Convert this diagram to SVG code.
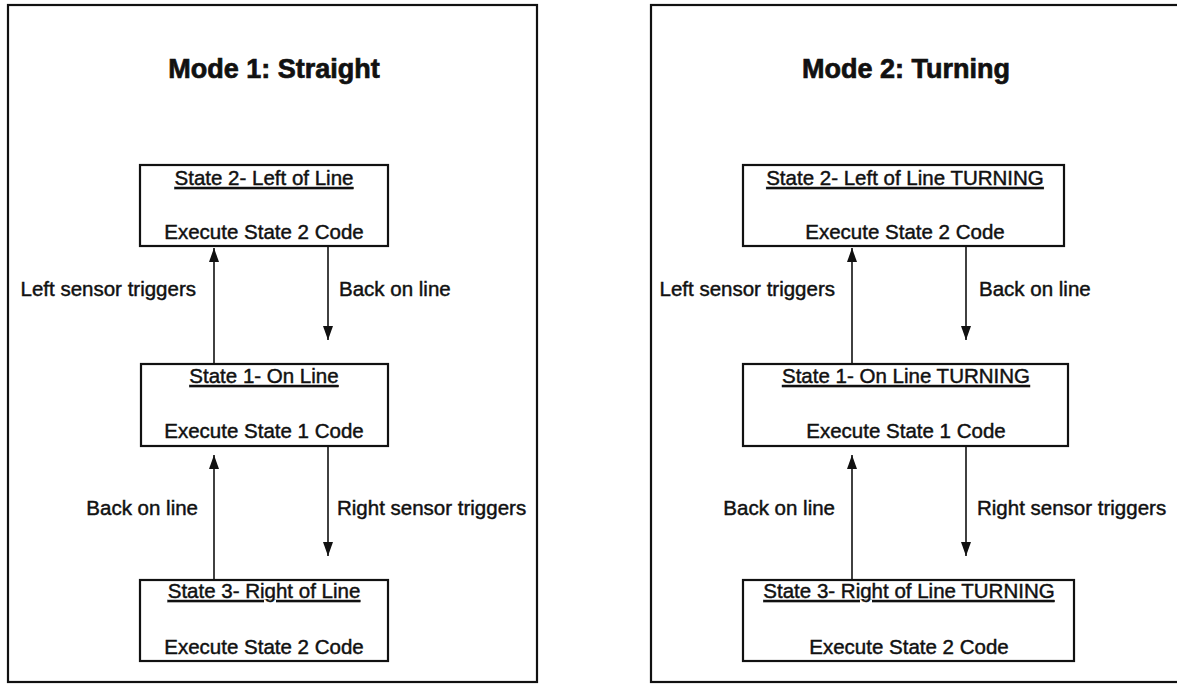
<svg xmlns="http://www.w3.org/2000/svg" width="1177" height="685" viewBox="0 0 1177 685">
<style>
text{font-family:"Liberation Sans",Arial,Helvetica,sans-serif;fill:#111;stroke:#111;stroke-width:0.45}
.title{font-size:27px;font-weight:bold;text-anchor:middle;stroke-width:0.7}
.lbl{font-size:20.5px}
.st{font-size:20.5px;text-anchor:middle;text-decoration:underline}
.ex{font-size:20.5px;text-anchor:middle}
.frame{fill:none;stroke:#111;stroke-width:2.2}
.box{fill:#fff;stroke:#111;stroke-width:2.2}
.conn line{stroke:#111;stroke-width:1.6}
</style>
<defs>
<marker id="ah2" viewBox="0 0 14 10" refX="14" refY="5" markerWidth="14" markerHeight="10" markerUnits="userSpaceOnUse" orient="auto">
<path d="M0,0 L14,5 L0,10 Z" fill="#111"/>
</marker>
</defs>
<rect width="1177" height="685" fill="#fff"/>

<g id="panel1">
<rect class="frame" x="8" y="5" width="529" height="677"/>
<text class="title" x="274" y="78">Mode 1: Straight</text>
</g>
<g id="panel2">
<rect class="frame" x="651" y="5" width="540" height="677"/>
<text class="title" x="906" y="78">Mode 2: Turning</text>
</g>

<g id="connectors" class="conn">
<line x1="214" y1="364" x2="214" y2="248" marker-end="url(#ah2)"/>
<line x1="328" y1="246" x2="328" y2="340" marker-end="url(#ah2)"/>
<line x1="214" y1="580" x2="214" y2="455" marker-end="url(#ah2)"/>
<line x1="328" y1="446" x2="328" y2="556" marker-end="url(#ah2)"/>
<line x1="852" y1="364" x2="852" y2="248" marker-end="url(#ah2)"/>
<line x1="966" y1="246" x2="966" y2="340" marker-end="url(#ah2)"/>
<line x1="852" y1="580" x2="852" y2="455" marker-end="url(#ah2)"/>
<line x1="966" y1="446" x2="966" y2="556" marker-end="url(#ah2)"/>
</g>

<g id="labels">
<text class="lbl" x="196" y="296" text-anchor="end">Left sensor triggers</text>
<text class="lbl" x="339" y="296">Back on line</text>
<text class="lbl" x="198" y="515" text-anchor="end">Back on line</text>
<text class="lbl" x="337" y="515">Right sensor triggers</text>
<text class="lbl" x="835" y="296" text-anchor="end">Left sensor triggers</text>
<text class="lbl" x="979" y="296">Back on line</text>
<text class="lbl" x="835" y="515" text-anchor="end">Back on line</text>
<text class="lbl" x="977" y="515">Right sensor triggers</text>
</g>

<g id="m1-state2">
<rect class="box" x="140" y="165" width="248" height="81"/>
<text class="st" x="264" y="185">State 2- Left of Line</text>
<text class="ex" x="264" y="239">Execute State 2 Code</text>
</g>
<g id="m1-state1">
<rect class="box" x="141" y="364" width="247" height="82"/>
<text class="st" x="264" y="383">State 1- On Line</text>
<text class="ex" x="264" y="438">Execute State 1 Code</text>
</g>
<g id="m1-state3">
<rect class="box" x="140" y="580" width="248" height="81"/>
<text class="st" x="264" y="598">State 3- Right of Line</text>
<text class="ex" x="264" y="654">Execute State 2 Code</text>
</g>

<g id="m2-state2">
<rect class="box" x="743" y="165" width="321" height="81"/>
<text class="st" x="905" y="185">State 2- Left of Line TURNING</text>
<text class="ex" x="905" y="239">Execute State 2 Code</text>
</g>
<g id="m2-state1">
<rect class="box" x="743" y="364" width="325" height="82"/>
<text class="st" x="906" y="383">State 1- On Line TURNING</text>
<text class="ex" x="906" y="438">Execute State 1 Code</text>
</g>
<g id="m2-state3">
<rect class="box" x="743" y="580" width="331" height="81"/>
<text class="st" x="909" y="598">State 3- Right of Line TURNING</text>
<text class="ex" x="909" y="654">Execute State 2 Code</text>
</g>
</svg>
